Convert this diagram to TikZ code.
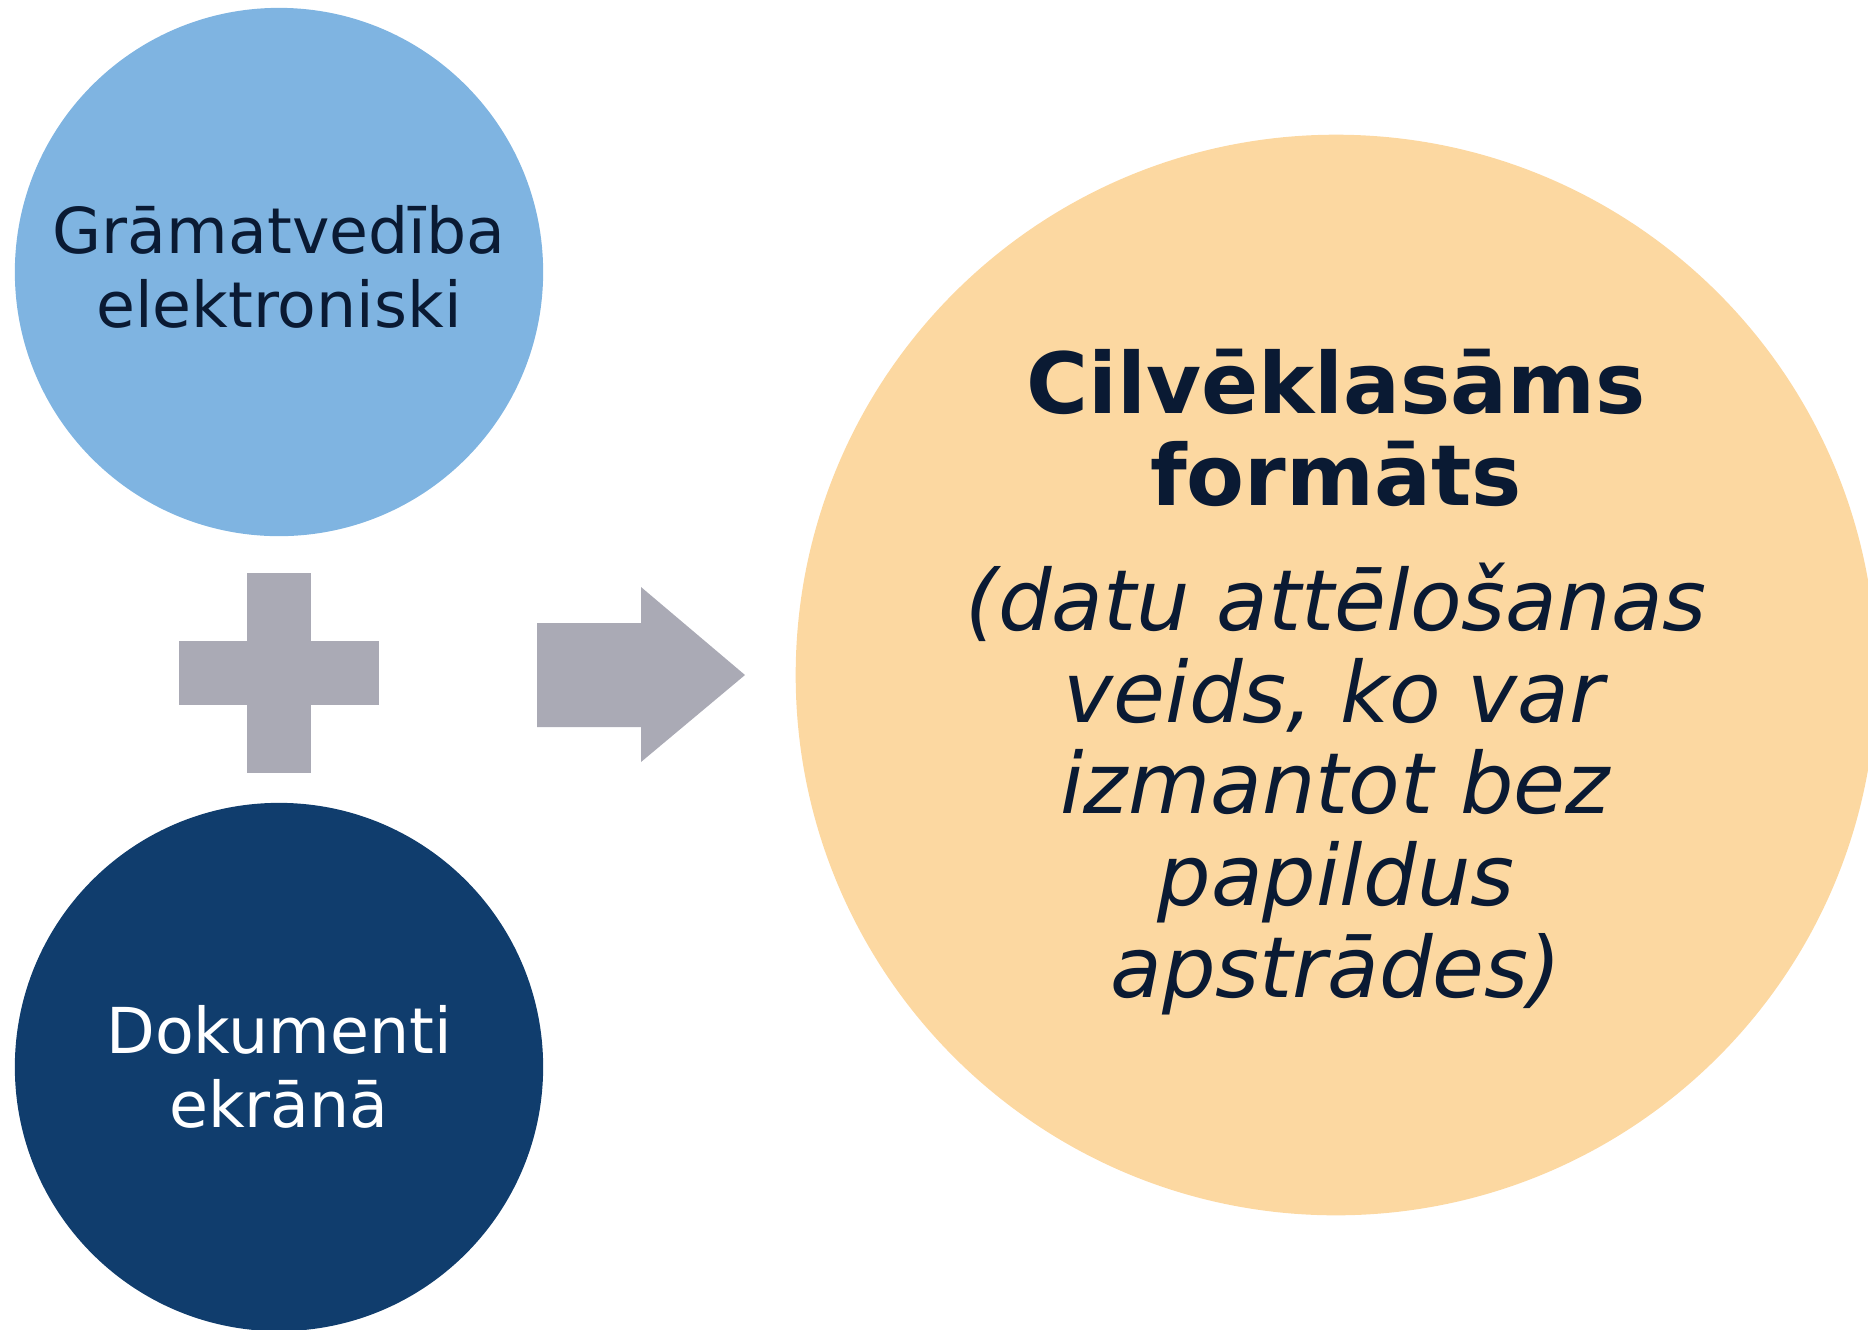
\documentclass[tikz,border=0pt]{standalone}
\usepackage{fontspec}
\setmainfont{DejaVu Sans}
\definecolor{lightblue}{HTML}{7FB4E1}
\definecolor{navy}{HTML}{103D6D}
\definecolor{peach}{HTML}{FCD8A1}
\definecolor{greyish}{HTML}{AAAAB5}
\definecolor{inkdark}{HTML}{0A1A33}
\tikzset{
  bubble/.style={circle, inner sep=0pt, align=center, text=inkdark},
  plain/.style={font=\fontsize{18}{20.9}\selectfont}
}
\begin{document}
\begin{tikzpicture}[x=0.01cm, y=-0.01cm]

  % Fix the canvas to the size of the reference
  \useasboundingbox (0,0) rectangle (1868,1329);

  % Define the diameters of the circles
  \def\r{5.28cm}
  \def\R{10.8cm}

  % Define the centres
  \coordinate (T) at (279,272);
  \coordinate (B) at (279,1067);
  \coordinate (F) at (1336,675);

  % Draw the top circle
  \node[bubble, plain, fill=lightblue, minimum size=\r] (acct) at (T) {};
  \node[plain, align=center, text=inkdark] (accttext) at (279,267)
    {Grāmatvedība\\elektroniski};

  % Draw the bottom circle
  \node[bubble, plain, fill=navy, text=white, minimum size=\r] (docs) at (B)
    {Dokumenti\\ekrānā};

  % Draw the big circle on the right
  \node[bubble, fill=peach, minimum size=\R] (human) at (F) {};
  \node[align=center, text=inkdark, font=\fontsize{24}{26.1}\selectfont] (humantext) at (1336,682)
    {\textbf{Cilvēklasāms}\\\textbf{formāts}\\[9.5pt]
     \textit{(datu attēlošanas}\\\textit{veids, ko var}\\\textit{izmantot bez}\\
     \textit{papildus}\\\textit{apstrādes)}};

  % Draw the plus sign between the two circles
  \fill[greyish] (247,573) rectangle (311,773);
  \fill[greyish] (179,641) rectangle (379,705);

  % Draw the block arrow
  \fill[greyish] (537,623) -- (641,623) -- (641,587) -- (745,675)
    -- (641,762) -- (641,727) -- (537,727) -- cycle;

\end{tikzpicture}
\end{document}
